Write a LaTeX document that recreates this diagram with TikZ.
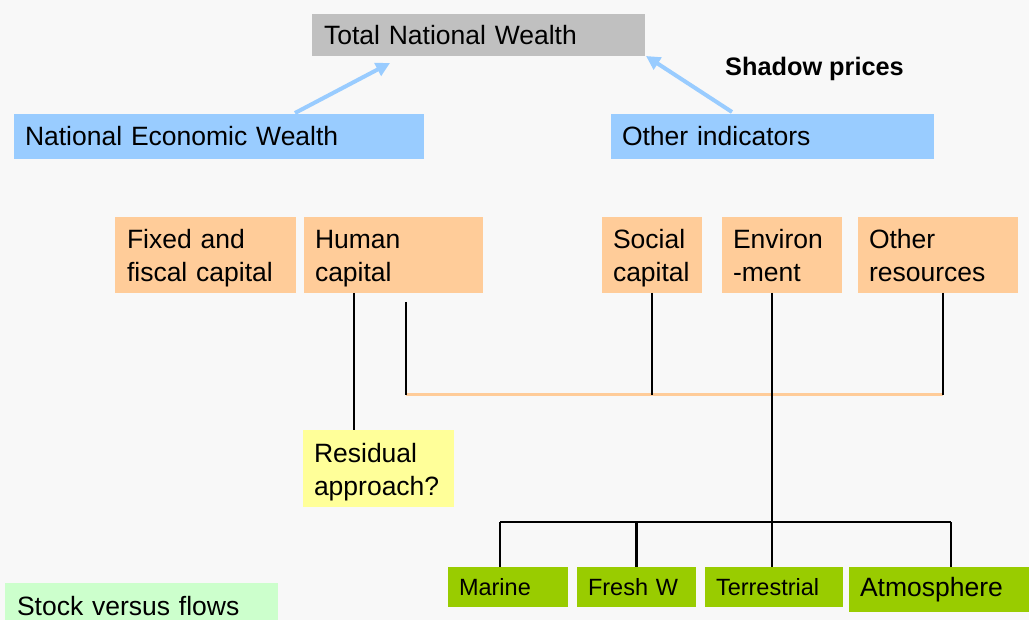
\documentclass[tikz,border=0pt]{standalone}
\usepackage{fontspec}
\setmainfont{Liberation Sans}
\usetikzlibrary{arrows.meta,calc}
\definecolor{bgc}{HTML}{F8F8F8}
\definecolor{greyb}{HTML}{C0C0C0}
\definecolor{blueb}{HTML}{99CCFF}
\definecolor{orangeb}{HTML}{FFCC99}
\definecolor{yellowb}{HTML}{FFFF99}
\definecolor{greenb}{HTML}{99CC00}
\definecolor{mintb}{HTML}{CCFFCC}
\newcommand\fbig{\fontsize{26.5}{33}\selectfont}
\newcommand\fsmall{\fontsize{23.5}{28}\selectfont}
\newcommand\topstr{\rule{0pt}{30pt}}
\tikzset{
  bx/.style={anchor=north west, inner xsep=12pt, inner ysep=0pt, align=left, font=\fbig, outer sep=0pt},
  gbx/.style={bx, fill=greenb, inner xsep=11pt, font=\fsmall},
  ln/.style={draw=black, line width=2pt},
  bus/.style={draw=orangeb, line width=3pt},
  barrow/.style={draw=blueb, line width=4pt, -{Triangle[length=14pt,width=14pt]}},
}
\begin{document}
\begin{tikzpicture}[x=1pt,y=-1pt]
\fill[bgc] (0,0) rectangle (1029,620);
\useasboundingbox (0,0) rectangle (1029,620);

% top
\node[bx, fill=greyb, minimum width=333pt, minimum height=42pt, text width=309pt] (tnw) at (312,14) {Total National Wealth};
\node[bx, fill=blueb, minimum width=410pt, minimum height=45pt, text width=388pt, inner xsep=11pt] (new) at (14,114) {National Economic Wealth};
\node[bx, fill=blueb, minimum width=323pt, minimum height=45pt, text width=301pt, inner xsep=11pt] (oth) at (611,114) {Other indicators};
\node[anchor=west, inner sep=0pt, font=\fontsize{25.3}{30}\selectfont\bfseries] (shadow) at (725,69) {Shadow prices};

\coordinate (a1s) at ($(new.north west)+(281,-1)$);
\coordinate (a1e) at ($(tnw.south west)+(78,7)$);
\coordinate (a2s) at ($(oth.north west)+(121,-2)$);
\coordinate (a2e) at ($(tnw.south east)+(1,0)$);
\draw[barrow] (a1s) -- (a1e);
\draw[barrow] (a2s) -- (a2e);

% capital boxes
\node[bx, fill=orangeb, minimum width=181pt, minimum height=76pt, text width=157pt, inner xsep=12pt] (fixed) at (115,217) {\topstr Fixed and\\\strut fiscal capital};
\node[bx, fill=orangeb, minimum width=179pt, minimum height=76pt, text width=157pt, inner xsep=11pt] (human) at (304,217) {\topstr Human\\\strut capital};
\node[bx, fill=orangeb, minimum width=100pt, minimum height=76pt, text width=78pt, inner xsep=11pt] (social) at (602,217) {\topstr Social\\\strut capital};
\node[bx, fill=orangeb, minimum width=120pt, minimum height=76pt, text width=98pt, inner xsep=11pt] (env) at (722,217) {\topstr Environ\\\strut -ment};
\node[bx, fill=orangeb, minimum width=160pt, minimum height=76pt, text width=138pt, inner xsep=11pt] (ores) at (858,217) {\topstr Other\\\strut resources};

\node[bx, fill=yellowb, minimum width=151pt, minimum height=77pt, text width=129pt, inner xsep=11pt] (resid) at (303,430) {\topstr Residual\\\strut approach?};

% green boxes
\node[gbx, minimum width=120pt, minimum height=40pt, text width=98pt] (marine) at (448,567) {Marine};
\node[gbx, minimum width=119pt, minimum height=40pt, text width=97pt] (fresh) at (577,567) {Fresh W};
\node[gbx, minimum width=138pt, minimum height=40pt, text width=116pt] (terr) at (705,567) {Terrestrial};
\node[gbx, minimum width=180pt, minimum height=45pt, text width=158pt, font=\fbig] (atmo) at (849,567) {Atmosphere};

\node[bx, fill=mintb, minimum width=273pt, minimum height=46pt, text width=249pt, inner xsep=12pt] (stock) at (5,583) {Stock versus flows};

% human -> residual
\coordinate (h1) at ($(human.south west)+(50,0)$);
\draw[ln] (h1) -- (h1 |- resid.north);

% orange bus
\coordinate (busL) at (406,395);
\coordinate (busT) at (406,302);
\coordinate (sB) at (social.south |- busL);
\coordinate (oT) at ($(ores.south west)+(85,0)$);
\coordinate (oB) at (oT |- busL);
\draw[bus] (busL) -- (oB);
\draw[ln] (busT) -- (busL);
\draw[ln] (social.south) -- (sB);
\draw[ln] (oT) -- (oB);

% environment tree
\coordinate (eT) at ($(env.south west)+(50,0)$);
\coordinate (eB) at ($(eT)+(0,229)$);
\coordinate (mT) at ($(marine.north west)+(52,0)$);
\coordinate (fT) at ($(fresh.north west)+(59,0)$);
\coordinate (tT) at ($(terr.north west)+(67,0)$);
\coordinate (aT) at ($(atmo.north west)+(102,0)$);
\draw[ln] (eT) -- (eB);
\draw[ln] (mT |- eB) -- (aT |- eB);
\draw[ln] (mT |- eB) -- (mT);
\draw[ln, line width=3pt] (fT |- eB) -- (fT);
\draw[ln] (eB) -- (tT);
\draw[ln] (aT |- eB) -- (aT);
\end{tikzpicture}
\end{document}
